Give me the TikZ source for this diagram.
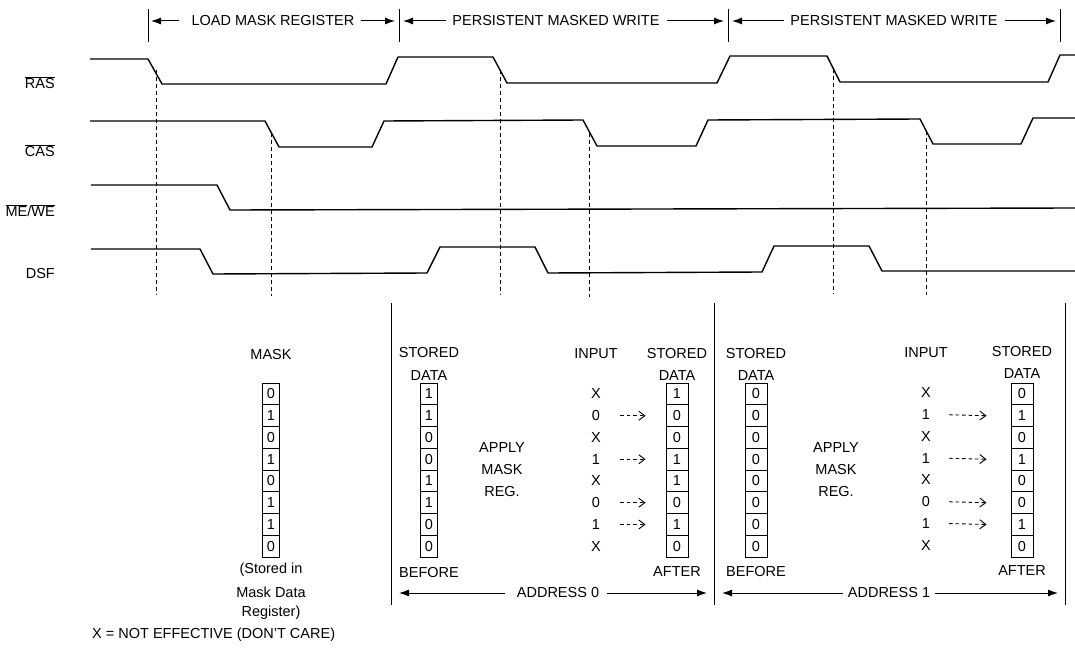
\documentclass[tikz,border=0pt]{standalone}
\usepackage{fontspec}
\setmainfont{Liberation Sans}
\usetikzlibrary{arrows.meta}
\newcommand\ovl[1]{$\overline{\mbox{#1}}$}
\newcommand\regcol[4]{%
  \foreach \d [count=\i from 0] in {#4} {%
    \node[cell, minimum width=#3] (#1\i) at (#2,{394+21.75*\i}) {\d};}}
\begin{document}
\begin{tikzpicture}[x=1pt,y=-1pt,
  every node/.style={font=\fontsize{14.5}{17}\selectfont, inner sep=0pt},
  wave/.style={line width=1.4pt, line join=round},
  guide/.style={line width=0.9pt, dash pattern=on 4pt off 3pt},
  marker/.style={line width=0.9pt},
  harr/.style={line width=1pt, -{Latex[length=10pt,width=7pt]}},
  cell/.style={draw, line width=1pt, minimum height=21.75pt, inner sep=0pt},
  darr/.style={line width=0.9pt, dash pattern=on 3.5pt off 3pt, -{Straight Barb[length=6pt,width=9pt,line width=0.9pt]}},
  sepline/.style={line width=1pt}]
\useasboundingbox (0,0) rectangle (1075,660);

% ---------- header ----------
\foreach \x/\n in {148/m1,399/m2,728/m3,1060/m4}{
  \draw[marker] (\x,9) -- (\x,42);
  \coordinate (\n) at (\x,21);}
\node (h1) at (273,21) {LOAD MASK REGISTER};
\node (h2) at (556,21) {PERSISTENT MASKED WRITE};
\node (h3) at (894,21) {PERSISTENT MASKED WRITE};
\draw[harr] ([xshift=-12pt]h1.west) -- ([xshift=3pt]m1);
\draw[harr] ([xshift=6pt]h1.east) -- ([xshift=-4pt]m2);
\draw[harr] ([xshift=-6pt]h2.west) -- ([xshift=4pt]m2);
\draw[harr] ([xshift=7pt]h2.east) -- ([xshift=-4pt]m3);
\draw[harr] ([xshift=-6pt]h3.west) -- ([xshift=4pt]m3);
\draw[harr] ([xshift=7pt]h3.east) -- ([xshift=-4pt]m4);

% ---------- signal names ----------
\node[anchor=east] (lras) at (55,83) {\ovl{RAS}};
\node[anchor=east] (lcas) at (55,151) {\ovl{CAS}};
\node[anchor=east] (lme) at (55,211) {\ovl{ME}/\ovl{WE}};
\node[anchor=east] (ldsf) at (55,274) {DSF};

% ---------- waveforms ----------
\draw[wave] (90,59) -- (148,59) -- (162,84) -- (386,84) -- (398,57) -- (493,57)
  -- (507,83) -- (717,83) -- (730,56) -- (827,56) -- (840,82) -- (1048,82)
  -- (1060,55) -- (1075,55);
\draw[wave] (90,121) -- (265,121) -- (279,147) -- (372,147) -- (384,121) -- (583,120)
  -- (597,146) -- (696,146) -- (708,120) -- (920,119) -- (933,144) -- (1021,144)
  -- (1033,118) -- (1075,118);
\draw[wave] (91,185) -- (217,185) -- (230,210) -- (1075,208);
\draw[wave] (91,249) -- (200,249) -- (213,274) -- (427,273) -- (440,247) -- (535,247)
  -- (548,273) -- (762,272) -- (774,246) -- (869,246) -- (882,271) -- (1075,271);

% ---------- guide lines ----------
\draw[guide] (156,70) -- (156,295);
\draw[guide] (271,133) -- (271,296);
\draw[guide] (500,70) -- (500,295);
\draw[guide] (589,133) -- (589,297);
\draw[guide] (833,69) -- (833,294);
\draw[guide] (926,131) -- (926,295);

% ---------- separators ----------
\draw[sepline] (391,303) -- (391,605);
\draw[sepline] (714,303) -- (714,605);
\draw[sepline] (1065,303) -- (1065,605);

% ---------- mask ----------
\node (tmask) at (271,355) {MASK};
\regcol{mk}{271}{16.5pt}{0,1,0,1,0,1,1,0}
\node (st1) at (271,570) {(Stored in};
\node (st2) at (271,592) {Mask Data};
\node (st3) at (271,613) {Register)};

% ---------- address 0 ----------
\node (sb0) at (429,353) {STORED};
\node (db0) at (429,376) {DATA};
\regcol{b0}{429}{16.5pt}{1,1,0,0,1,1,0,0}
\node (bf0) at (429,573) {BEFORE};
\node (ap0) at (502,448) {APPLY};
\node (am0) at (502,470) {MASK};
\node (ar0) at (502,492) {REG.};
\node (in0) at (596,354) {INPUT};
\foreach \d [count=\i from 0] in {X,0,X,1,X,0,1,X}
  \node (pa\i) at (596,{394+21.75*\i}) {\d};
\node (sa0) at (677,354) {STORED};
\node (da0) at (677,376) {DATA};
\regcol{a0}{677}{22pt}{1,0,0,1,1,0,1,0}
\node (af0) at (677,572) {AFTER};
\foreach \i in {1,3,5,6}
  \draw[darr] ([xshift=24pt]pa\i.center) -- ([xshift=-20pt]a0\i.west);
\node (ad0) at (558,593) {ADDRESS 0};
\draw[harr] ([xshift=-12pt]ad0.west) -- (399,593);
\draw[harr] ([xshift=8pt]ad0.east) -- (707,593);

% ---------- address 1 ----------
\node (sb1) at (756,354) {STORED};
\node (db1) at (756,376) {DATA};
\regcol{b1}{756}{22pt}{0,0,0,0,0,0,0,0}
\node (bf1) at (756,572) {BEFORE};
\node (ap1) at (836,448) {APPLY};
\node (am1) at (836,470) {MASK};
\node (ar1) at (836,492) {REG.};
\node (in1) at (926,353) {INPUT};
\foreach \d [count=\i from 0] in {X,1,X,1,X,0,1,X}
  \node (pb\i) at (926,{393+21.75*\i}) {\d};
\node (sa1) at (1022,352) {STORED};
\node (da1) at (1022,374) {DATA};
\regcol{a1}{1022}{22pt}{0,1,0,1,0,0,1,0}
\node (af1) at (1022,571) {AFTER};
\foreach \i in {1,3,5,6}
  \draw[darr] ([xshift=23pt]pb\i.center) -- ([xshift=-24pt]a1\i.west);
\node (ad1) at (889,593) {ADDRESS 1};
\draw[harr] ([xshift=-5pt]ad1.west) -- (722,593);
\draw[harr] ([xshift=5pt]ad1.east) -- (1058,593);

% ---------- note ----------
\node[anchor=west] (note) at (92,635) {X = NOT EFFECTIVE (DON'T CARE)};
\end{tikzpicture}
\end{document}
